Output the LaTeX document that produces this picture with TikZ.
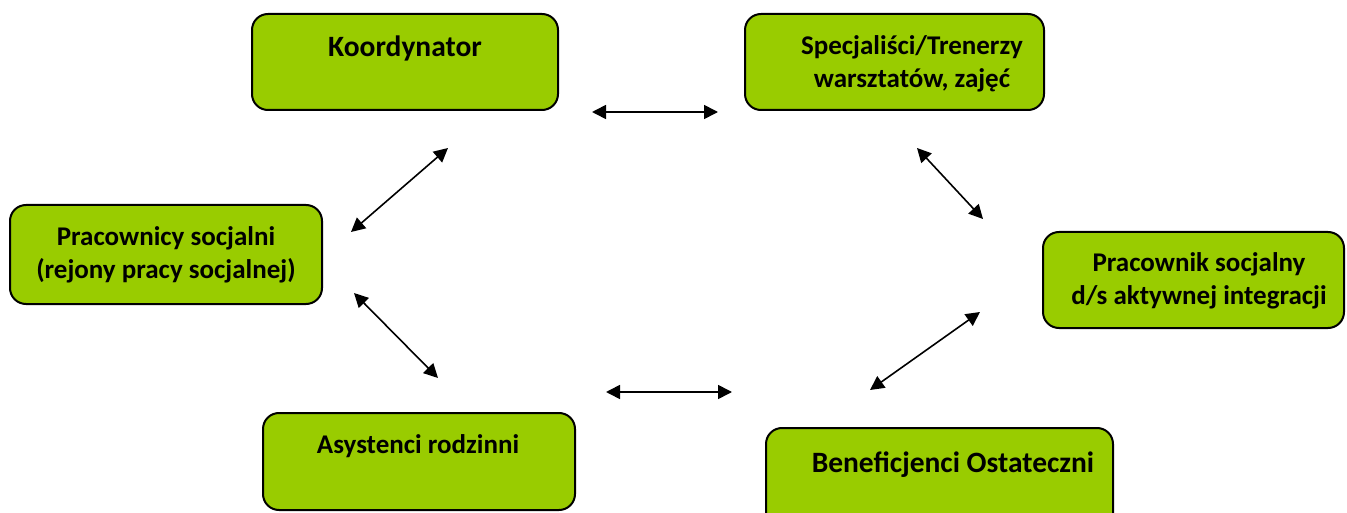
\documentclass[tikz,border=0pt]{standalone}
\usepackage{fontspec}
\setmainfont{Carlito}
\usetikzlibrary{arrows.meta}
\definecolor{boxgreen}{HTML}{99CC00}
\tikzset{
  box/.style={draw=black, line width=2pt, fill=boxgreen, rounded corners=16pt, inner sep=0pt},
  lbl/.style={font=\bfseries\fontsize{27}{33}\selectfont, align=center, anchor=base, inner sep=0pt},
  biglbl/.style={font=\bfseries\fontsize{29.5}{33}\selectfont, align=center, anchor=base, inner sep=0pt},
  link/.style={line width=1.6pt, {Triangle[length=14pt,width=14pt]}-{Triangle[length=14pt,width=14pt]}}
}
\begin{document}
\begin{tikzpicture}[x=1pt,y=-1pt]
\useasboundingbox (0,0) rectangle (1347,513);
% boxes
\draw[box] (252,14) rectangle (558,110);
\node[biglbl] (koordtxt) at (405,57) {Koordynator};
\draw[box] (745,14) rectangle (1044,110);
\node[lbl] (spectxt) at (912,88) {Specjaliści/Trenerzy\\warsztatów, zajęć};
\draw[box] (10,205) rectangle (322,304);
\node[lbl] (practxt) at (166,279) {Pracownicy socjalni\\(rejony pracy socjalnej)};
\draw[box] (1043,232) rectangle (1344,328);
\node[lbl] (pracdistxt) at (1199,305) {Pracownik socjalny\\d/s aktywnej integracji};
\draw[box] (263,413) rectangle (575,510);
\node[lbl] (asysttxt) at (418,453) {Asystenci rodzinni};
\draw[box] (766,428) rectangle (1113,540);
\node[biglbl] (beneftxt) at (953,472) {Beneficjenci Ostateczni};
% arrow end points
\coordinate (a1) at (592,112); \coordinate (a2) at (718,112);
\coordinate (b1) at (448,148); \coordinate (b2) at (351,232);
\coordinate (c1) at (354,293); \coordinate (c2) at (438,378);
\coordinate (d1) at (606,392); \coordinate (d2) at (732,392);
\coordinate (e1) at (870,390); \coordinate (e2) at (980,312);
\coordinate (f1) at (917,148); \coordinate (f2) at (983,219);
\draw[link] (a1) -- (a2);
\draw[link] (b1) -- (b2);
\draw[link] (c1) -- (c2);
\draw[link] (d1) -- (d2);
\draw[link] (e1) -- (e2);
\draw[link] (f1) -- (f2);
\end{tikzpicture}
\end{document}
